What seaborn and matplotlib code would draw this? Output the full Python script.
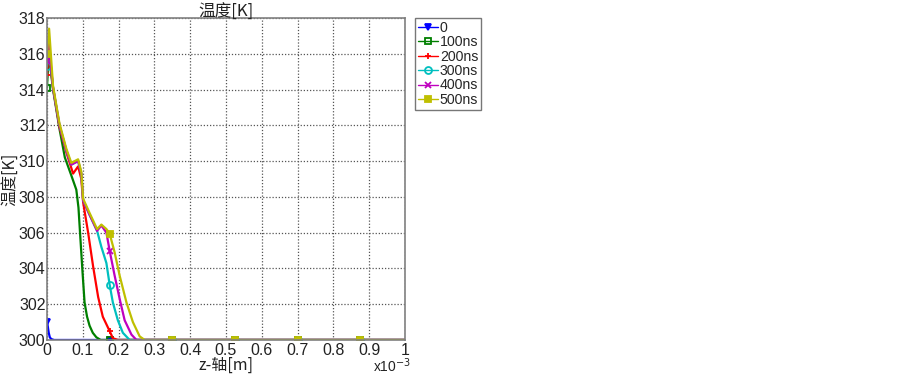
import numpy as np
import pandas as pd
import matplotlib
matplotlib.use("Agg")
import matplotlib.pyplot as plt
import seaborn as sns
from matplotlib.ticker import FuncFormatter

# ---------------- data (z in 1e-3 m, temperature in K) ----------------
labels = ["0", "100ns", "200ns", "300ns", "400ns", "500ns"]
tail_z = [0.35, 0.525, 0.7, 0.875, 1.0]
tail_T = [300.0, 300.0, 300.0, 300.0, 300.0]

z_0 = [0.0, 0.002, 0.005, 0.008, 0.012, 0.02, 0.04, 0.175] + tail_z
T_0 = [301.0, 300.8, 300.4, 300.15, 300.05, 300.0, 300.0, 300.0] + tail_T

z_100 = [0.0, 0.005, 0.017, 0.035, 0.05, 0.068, 0.082, 0.088, 0.093, 0.099,
         0.105, 0.112, 0.119, 0.128, 0.138, 0.15, 0.175] + tail_z
T_100 = [314.1, 316.0, 314.0, 311.8, 310.2, 309.2, 308.4, 307.4, 305.8, 303.9,
         302.1, 301.3, 300.8, 300.4, 300.15, 300.0, 300.0] + tail_T

z_200 = [0.0, 0.005, 0.017, 0.035, 0.054, 0.073, 0.087, 0.096, 0.101, 0.115,
         0.129, 0.143, 0.156, 0.175, 0.184, 0.198] + tail_z
T_200 = [314.8, 316.2, 314.1, 311.9, 310.5, 309.3, 309.7, 309.0, 307.7, 306.0,
         304.1, 302.4, 301.3, 300.5, 300.1, 300.0] + tail_T

z_300 = [0.0, 0.005, 0.017, 0.035, 0.054, 0.068, 0.087, 0.096, 0.101, 0.119,
         0.133, 0.14, 0.152, 0.166, 0.175, 0.184, 0.198, 0.212, 0.231] + tail_z
T_300 = [315.3, 316.4, 314.1, 312.0, 310.6, 309.8, 310.0, 309.3, 307.8, 307.0,
         306.4, 306.1, 305.2, 304.3, 303.1, 302.1, 301.1, 300.4, 300.0] + tail_T

z_400 = [0.0, 0.005, 0.017, 0.035, 0.054, 0.068, 0.087, 0.096, 0.101, 0.119,
         0.133, 0.14, 0.152, 0.166, 0.175, 0.189, 0.203, 0.217, 0.236, 0.25] + tail_z
T_400 = [315.6, 316.6, 314.1, 312.0, 310.6, 309.8, 310.0, 309.3, 307.8, 307.0,
         306.4, 306.1, 306.4, 306.0, 305.0, 303.6, 302.3, 301.1, 300.3, 300.0] + tail_T

z_500 = [0.0, 0.006, 0.017, 0.035, 0.054, 0.068, 0.087, 0.096, 0.101, 0.119,
         0.133, 0.14, 0.152, 0.166, 0.175, 0.189, 0.203, 0.222, 0.24, 0.259, 0.273] + tail_z
T_500 = [316.0, 317.4, 314.2, 312.1, 310.7, 309.9, 310.1, 309.4, 307.9, 307.1,
         306.5, 306.2, 306.45, 306.2, 305.95, 304.9, 303.6, 302.1, 301.0, 300.2, 300.0] + tail_T

marker_z = [0.0, 0.175, 0.35, 0.525, 0.7, 0.875]

xticks = [0, 0.1, 0.2, 0.3, 0.4, 0.5, 0.6, 0.7, 0.8, 0.9, 1.0]
yticks = [300, 302, 304, 306, 308, 310, 312, 314, 316, 318]

# ---------------- style ----------------
series_z = [z_0, z_100, z_200, z_300, z_400, z_500]
series_T = [T_0, T_100, T_200, T_300, T_400, T_500]
colors = ["#0000ff", "#007f00", "#ff0000", "#00bfbf", "#bf00bf", "#bfbf00"]
markers = ["v", "s", "+", "o", "x", "s"]
mfcs = ["#0000ff", "none", "#ff0000", "none", "#bf00bf", "#bfbf00"]

sns.set_theme(style="white")
plt.rcParams["font.family"] = ["Liberation Sans", "Noto Sans CJK SC", "DejaVu Sans"]
plt.rcParams["axes.unicode_minus"] = False
cjk = ["Noto Sans CJK SC", "DejaVu Sans"]

fig = plt.figure(figsize=(9.03, 3.74), dpi=100)
ax = fig.add_axes([0.052, 0.091, 0.3965, 0.861])

for lab, zs, Ts, c, m, fc in zip(labels, series_z, series_T, colors, markers, mfcs):
    df = pd.DataFrame({"z": np.array(zs) * 1e-3, "T": Ts})
    idx = [i for i, v in enumerate(zs) if any(abs(v - mz) < 1e-9 for mz in marker_z)]
    sns.lineplot(data=df, x="z", y="T", ax=ax, color=c, lw=1.6, sort=False,
                 estimator=None, label=lab, marker=m, markevery=idx,
                 markersize=5, markerfacecolor=fc, markeredgecolor=c,
                 markeredgewidth=1.3)

ax.set_xlim(0, 1e-3)
ax.set_ylim(300, 318)
ax.set_xticks([v * 1e-3 for v in xticks])
ax.set_yticks(yticks)
ax.xaxis.set_major_formatter(FuncFormatter(lambda v, p: f"{v * 1e3:g}"))
ax.tick_params(direction="in", length=3, labelsize=11.5, colors="#222222", pad=1)
ax.tick_params(axis="x", pad=2)
ax.grid(True, linestyle=(0, (1, 1.5)), color="#555555", lw=0.9)
for s in ax.spines.values():
    s.set_color("#808080")
    s.set_linewidth(1.2)

ax.set_title("温度[K]", fontsize=12, pad=1, color="#222222", family=cjk)
ax.set_xlabel("z-轴[m]", fontsize=11.5, color="#222222", family=cjk)
ax.xaxis.set_label_coords(0.5, -0.08)
ax.xaxis.label.set_va("center")
ax.set_ylabel("温度[K]", fontsize=11.5, color="#222222", family=cjk)
ax.yaxis.set_label_coords(-0.105, 0.5)
ax.yaxis.label.set_va("center")
fig.text(0.434, 0.022, r"x10$^{-3}$", fontsize=10, color="#222222",
         ha="center", va="center")

leg = ax.legend(loc="upper left", bbox_to_anchor=(1.028, 1.0), frameon=True,
                prop={"family": "Liberation Sans", "size": 10.2},
                handlelength=1.4, handletextpad=0.15,
                borderpad=0.2, labelspacing=0.03, borderaxespad=0,
                fancybox=False)
leg.get_frame().set_edgecolor("#555555")
leg.get_frame().set_linewidth(1.0)
for h in leg.legend_handles:
    h.set_linewidth(1.0)

fig.savefig("out.png", dpi=100)
